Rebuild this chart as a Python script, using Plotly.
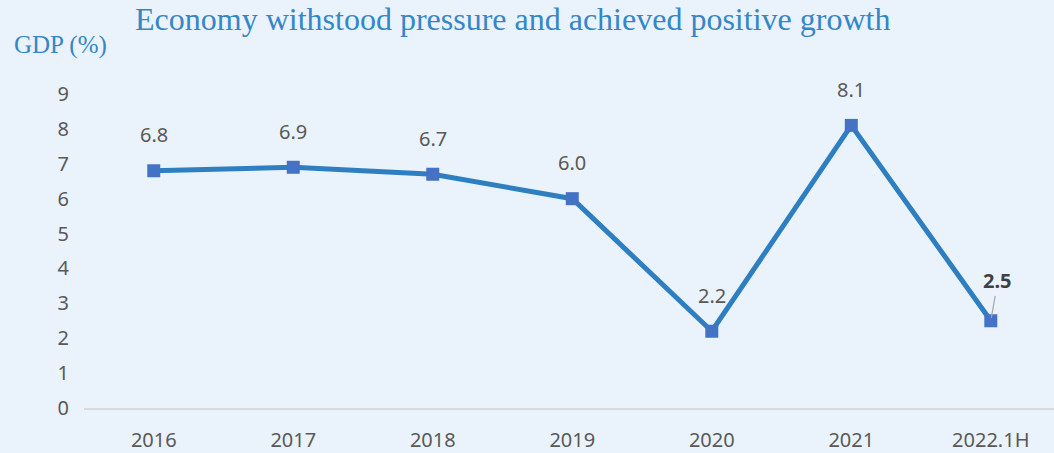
import plotly.graph_objects as go

years = ["2016", "2017", "2018", "2019", "2020", "2021", "2022.1H"]
gdp = [6.8, 6.9, 6.7, 6.0, 2.2, 8.1, 2.5]
y_ticks = [0, 1, 2, 3, 4, 5, 6, 7, 8, 9]

fig = go.Figure()
fig.add_trace(go.Scatter(
    x=years, y=gdp, mode="lines+markers",
    line=dict(color="#2e7fc1", width=5),
    marker=dict(symbol="square", size=13, color="#4472c4"),
    cliponaxis=False, showlegend=False, hoverinfo="skip"))

for i, v in enumerate(gdp):
    if i == len(years) - 1:
        fig.add_annotation(x=i, y=v, text=f"<b>{v:.1f}</b>", showarrow=True,
                           ax=7, ay=-40, arrowhead=0, arrowwidth=1.2,
                           arrowcolor="#a6a6a6", standoff=3,
                           font=dict(family="Noto Sans, DejaVu Sans", size=20, color="#404040"))
    else:
        fig.add_annotation(x=i, y=v, text=f"{v:.1f}", showarrow=False, yshift=36,
                           font=dict(family="Noto Sans, DejaVu Sans", size=20, color="#595959"))

fig.add_annotation(xref="paper", yref="paper", x=0.5, y=1, xanchor="center", yanchor="middle",
                   text="Economy withstood pressure and achieved positive growth",
                   showarrow=False, xshift=-57, yshift=75,
                   font=dict(family="Liberation Serif, Times New Roman, serif", size=32, color="#3586c8"))
fig.add_annotation(xref="paper", yref="paper", x=0, y=1, xanchor="left", yanchor="middle",
                   text="GDP (%)", showarrow=False, xshift=-72, yshift=49,
                   font=dict(family="Liberation Serif, Times New Roman, serif", size=25, color="#3586c8"))

fig.update_xaxes(type="category", range=[-0.5, 6.453], showgrid=False, zeroline=False,
                 showline=True, linecolor="#d9d9d9", linewidth=2, ticks="",
                 ticklabelstandoff=13,
                 tickfont=dict(family="Noto Sans, DejaVu Sans", size=20, color="#595959"))
fig.update_yaxes(range=[0, 9], tickvals=y_ticks, showgrid=False, zeroline=False,
                 showline=False, ticks="", ticklabelstandoff=14,
                 tickfont=dict(family="Noto Sans, DejaVu Sans", size=20, color="#595959"))

fig.update_layout(width=1054, height=453, margin=dict(l=84, r=0, t=94, b=43),
                  paper_bgcolor="#eaf3fb", plot_bgcolor="rgba(0,0,0,0)")

fig.write_html("out.html")
